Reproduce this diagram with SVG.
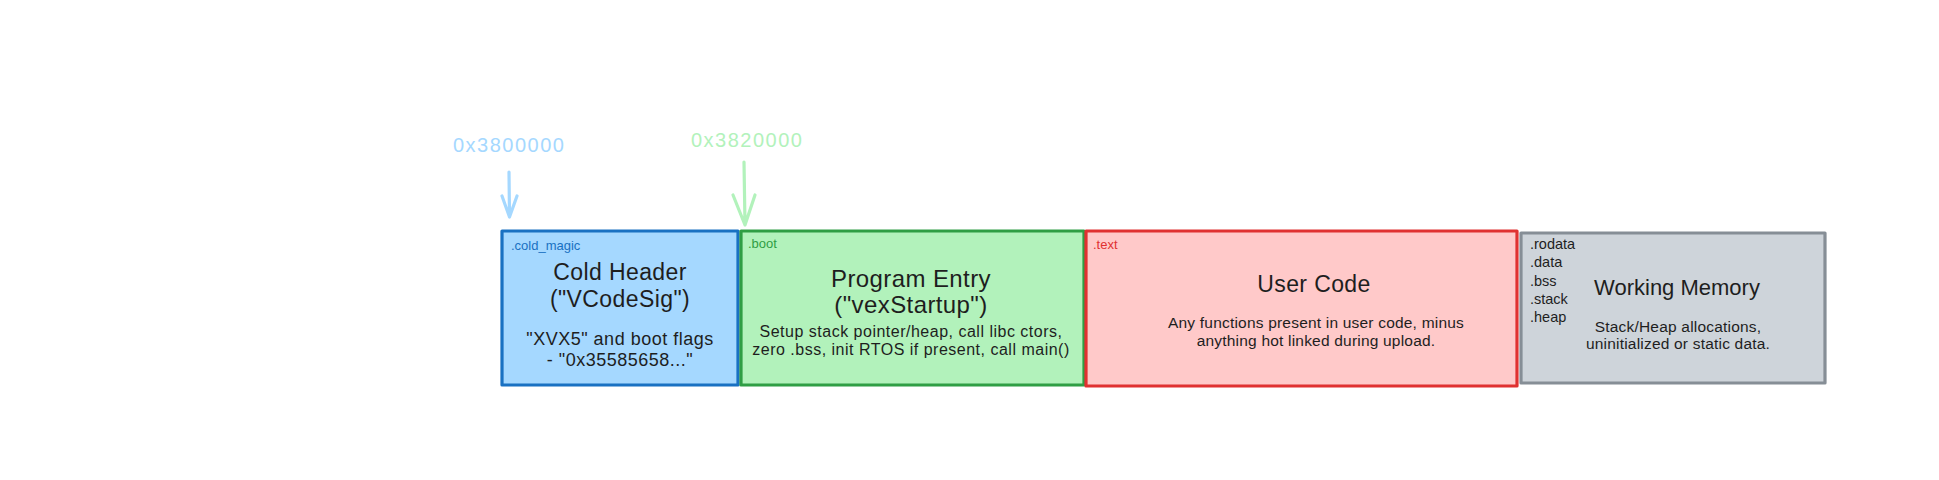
<svg xmlns="http://www.w3.org/2000/svg" width="1939" height="480" viewBox="0 0 1939 480">
<style>
text{font-family:"Liberation Sans",Arial,sans-serif;fill:#1e1e1e}
.box{stroke-width:3.2;stroke-linejoin:round}
.sec{font-size:13px}
.list{font-size:14.5px}
.title{font-size:23px;text-anchor:middle;letter-spacing:0.4px}
.body{font-size:15.5px;text-anchor:middle;letter-spacing:0.2px}
.addr{font-size:20px;letter-spacing:1.5px}
.arr{fill:none;stroke-width:3.2;stroke-linecap:round;stroke-linejoin:round}
</style>
<rect width="1939" height="480" fill="#ffffff"/>
<g id="connectors">
  <g id="arrow-blue">
    <text class="addr" x="453" y="152" style="fill:#a5d8ff">0x3800000</text>
    <path class="arr" stroke="#a5d8ff" d="M509 172 L509.5 217 M502 196 L509.5 217 L517 196"/>
  </g>
  <g id="arrow-green">
    <text class="addr" x="691" y="147" style="fill:#b2f2bb">0x3820000</text>
    <path class="arr" stroke="#b2f2bb" d="M744 162 L745 225 M733 195 L745 225 L755 195"/>
  </g>
</g>
<g id="node-cold">
  <rect class="box" x="502" y="231" width="236" height="154" fill="#a5d8ff" stroke="#1971c2"/>
  <text class="sec" x="511" y="250" style="fill:#1971c2">.cold_magic</text>
  <text class="title" x="620" y="280">Cold Header</text>
  <text class="title" x="620" y="307">("VCodeSig")</text>
  <text class="body" x="620" y="345" style="font-size:18px;letter-spacing:0.5px">"XVX5" and boot flags</text>
  <text class="body" x="620" y="366" style="font-size:18px;letter-spacing:0.5px">- "0x35585658..."</text>
</g>
<g id="node-boot">
  <rect class="box" x="741" y="231" width="343" height="154" fill="#b2f2bb" stroke="#2f9e44"/>
  <text class="sec" x="748" y="248" style="fill:#2f9e44">.boot</text>
  <text class="title" x="911" y="287" style="font-size:24px">Program Entry</text>
  <text class="title" x="911" y="313" style="font-size:24px">("vexStartup")</text>
  <text class="body" x="911" y="337" style="font-size:16px;letter-spacing:0.5px">Setup stack pointer/heap, call libc ctors,</text>
  <text class="body" x="911" y="355" style="font-size:16px;letter-spacing:0.5px">zero .bss, init RTOS if present, call main()</text>
</g>
<g id="node-text">
  <rect class="box" x="1086" y="231" width="431" height="155" fill="#ffc9c9" stroke="#e03131"/>
  <text class="sec" x="1093" y="249" style="fill:#e03131">.text</text>
  <text class="title" x="1314" y="292">User Code</text>
  <text class="body" x="1316" y="328">Any functions present in user code, minus</text>
  <text class="body" x="1316" y="346">anything hot linked during upload.</text>
</g>
<g id="node-memory">
  <rect class="box" x="1521" y="233" width="304" height="150" fill="#ced4da" stroke="#868e96"/>
  <text class="list" x="1530" y="249">.rodata</text>
  <text class="list" x="1530" y="267">.data</text>
  <text class="list" x="1530" y="286">.bss</text>
  <text class="list" x="1530" y="304">.stack</text>
  <text class="list" x="1530" y="322">.heap</text>
  <text class="title" x="1677" y="295" style="font-size:22px;letter-spacing:0">Working Memory</text>
  <text class="body" x="1678" y="332">Stack/Heap allocations,</text>
  <text class="body" x="1678" y="349">uninitialized or static data.</text>
</g>
</svg>
